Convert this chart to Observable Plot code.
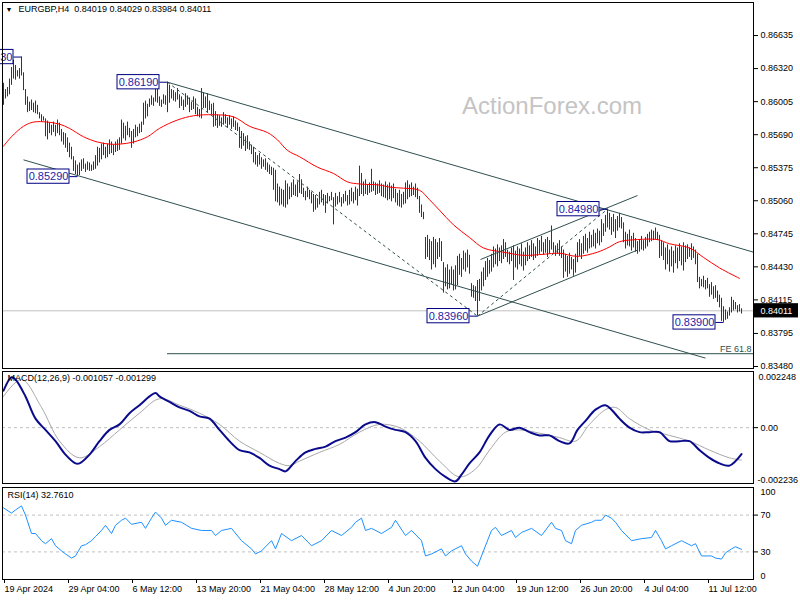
<!DOCTYPE html>
<html><head><meta charset="utf-8">
<script src="https://cdn.jsdelivr.net/npm/d3@7"></script>
<script src="https://cdn.jsdelivr.net/npm/@observablehq/plot@0.6"></script>
<style>
body{margin:0;background:#fff;}
#chart{position:relative;width:800px;height:600px;overflow:hidden;background:#fff;}
#chart svg{position:absolute;left:0;}
</style></head><body><div id="chart"></div>
<script>
// ---------- DATA ----------
const symbolHeader = "EURGBP,H4  0.84019 0.84029 0.83984 0.84011";
const macdHeader = "MACD(12,26,9) -0.001057 -0.001299";
const rsiHeader = "RSI(14) 32.7610";
const watermark = "ActionForex.com";
const lastPrice = 0.84011;

const barHigh = [
0.8618,0.8612,0.8614,0.8622,0.8633,0.8640,0.8635,0.8630,0.8632,0.8643,
0.8628,0.8612,0.8605,0.8600,0.8602,0.8599,0.8601,0.8597,0.8590,0.8588,
0.8586,0.8584,0.8582,0.8580,0.8578,0.8581,0.8578,0.8583,0.8580,0.8574,
0.8571,0.8570,0.8566,0.8561,0.8557,0.8548,0.8544,0.8540,0.8542,0.8545,
0.8546,0.8541,0.8543,0.8542,0.8540,0.8543,0.8549,0.8557,0.8556,0.8560,
0.8561,0.8557,0.8560,0.8564,0.8562,0.8559,0.8562,0.8564,0.8566,0.8583,
0.8580,0.8577,0.8581,0.8575,0.8572,0.8574,0.8578,0.8576,0.8579,0.8581,
0.8599,0.8601,0.8598,0.8603,0.8606,0.8604,0.8618,0.8614,0.8605,0.8602,
0.8607,0.8606,0.8619,0.8616,0.8612,0.8611,0.8609,0.8613,0.8607,0.8605,
0.8602,0.8608,0.8606,0.8604,0.8600,0.8605,0.8603,0.8595,0.8593,0.8613,
0.8609,0.8605,0.8608,0.8601,0.8598,0.8599,0.8591,0.8588,0.8587,0.8585,
0.8590,0.8588,0.8585,0.8587,0.8584,0.8586,0.8582,0.8580,0.8576,0.8572,
0.8570,0.8567,0.8568,0.8562,0.8559,0.8557,0.8552,0.8549,0.8551,0.8547,
0.8545,0.8546,0.8542,0.8540,0.8538,0.8537,0.8535,0.8522,0.8519,0.8517,
0.8516,0.8525,0.8522,0.8519,0.8523,0.8526,0.8521,0.8524,0.8531,0.8526,
0.8518,0.8515,0.8519,0.8516,0.8514,0.8512,0.8511,0.8508,0.8514,0.8516,
0.8512,0.8511,0.8513,0.8510,0.8514,0.8509,0.8513,0.8510,0.8514,0.8509,
0.8512,0.8515,0.8511,0.8516,0.8518,0.8514,0.8519,0.8517,0.8539,0.8532,
0.8524,0.8526,0.8521,0.8523,0.8536,0.8524,0.8523,0.8522,0.8525,0.8522,
0.8521,0.8524,0.8521,0.8523,0.8520,0.8522,0.8517,0.8513,0.8516,0.8512,
0.8514,0.8523,0.8525,0.8521,0.8523,0.8519,0.8522,0.8518,0.8510,0.8502,
0.8495,0.8471,0.8473,0.8469,0.8467,0.8471,0.8469,0.8466,0.8470,0.8467,
0.8447,0.8442,0.8445,0.8440,0.8443,0.8440,0.8444,0.8453,0.8455,0.8451,
0.8458,0.8456,0.8459,0.8454,0.8427,0.8425,0.8424,0.8430,0.8431,0.8438,
0.8442,0.8448,0.8451,0.8449,0.8455,0.8462,0.8460,0.8464,0.8461,0.8463,
0.8469,0.8466,0.8459,0.8457,0.8461,0.8463,0.8458,0.8462,0.8460,0.8465,
0.8457,0.8461,0.8466,0.8463,0.8468,0.8465,0.8462,0.8470,0.8468,0.8472,
0.8466,0.8469,0.8471,0.8468,0.8482,0.8466,0.8463,0.8465,0.8468,0.8462,
0.8459,0.8455,0.8453,0.8456,0.8452,0.8450,0.8455,0.8466,0.8469,0.8465,
0.8472,0.8474,0.8470,0.8476,0.8473,0.8478,0.8475,0.8479,0.8477,0.8488,
0.8484,0.8492,0.8498,0.8494,0.8490,0.8493,0.8488,0.8491,0.8494,0.8490,
0.8485,0.8476,0.8474,0.8478,0.8472,0.8475,0.8470,0.8467,0.8469,0.8472,
0.8468,0.8471,0.8474,0.8476,0.8478,0.8477,0.8480,0.8476,0.8473,0.8468,
0.8466,0.8461,0.8464,0.8459,0.8462,0.8458,0.8463,0.8461,0.8465,0.8462,
0.8466,0.8463,0.8464,0.8461,0.8465,0.8462,0.8459,0.8455,0.8433,0.8431,
0.8434,0.8430,0.8432,0.8426,0.8428,0.8424,0.8425,0.8420,0.8416,0.8413,
0.8405,0.8402,0.8400,0.8404,0.8414,0.8411,0.8409,0.8406,0.8407,0.8403];

const barLow = [
0.8597,0.8603,0.8605,0.8607,0.8616,0.8622,0.8621,0.8624,0.8622,0.8625,
0.8611,0.8597,0.8590,0.8591,0.8592,0.8590,0.8589,0.8588,0.8584,0.8581,
0.8582,0.8567,0.8564,0.8570,0.8568,0.8571,0.8567,0.8570,0.8568,0.8562,
0.8559,0.8556,0.8552,0.8547,0.8545,0.8534,0.8531,0.8529,0.8530,0.8534,
0.8536,0.8533,0.8535,0.8534,0.8534,0.8535,0.8536,0.8539,0.8542,0.8545,
0.8549,0.8546,0.8547,0.8550,0.8551,0.8549,0.8552,0.8553,0.8554,0.8560,
0.8565,0.8563,0.8568,0.8566,0.8556,0.8560,0.8566,0.8567,0.8570,0.8571,
0.8578,0.8584,0.8586,0.8595,0.8597,0.8596,0.8600,0.8599,0.8596,0.8595,
0.8598,0.8597,0.8590,0.8599,0.8603,0.8601,0.8600,0.8602,0.8594,0.8596,
0.8592,0.8595,0.8597,0.8590,0.8592,0.8593,0.8588,0.8586,0.8585,0.8584,
0.8594,0.8594,0.8590,0.8592,0.8588,0.8576,0.8577,0.8575,0.8577,0.8576,
0.8578,0.8579,0.8575,0.8578,0.8574,0.8576,0.8573,0.8572,0.8556,0.8555,
0.8558,0.8553,0.8555,0.8554,0.8550,0.8542,0.8540,0.8538,0.8540,0.8536,
0.8538,0.8535,0.8533,0.8531,0.8530,0.8516,0.8505,0.8504,0.8501,0.8502,
0.8500,0.8499,0.8502,0.8507,0.8509,0.8511,0.8510,0.8509,0.8513,0.8512,
0.8509,0.8506,0.8509,0.8507,0.8503,0.8495,0.8497,0.8499,0.8502,0.8504,
0.8501,0.8494,0.8503,0.8505,0.8506,0.8483,0.8500,0.8502,0.8504,0.8500,
0.8503,0.8505,0.8501,0.8502,0.8505,0.8503,0.8506,0.8501,0.8510,0.8512,
0.8510,0.8512,0.8511,0.8513,0.8514,0.8515,0.8511,0.8512,0.8513,0.8510,
0.8509,0.8508,0.8506,0.8507,0.8505,0.8508,0.8504,0.8501,0.8500,0.8499,
0.8502,0.8503,0.8507,0.8509,0.8510,0.8511,0.8509,0.8507,0.8494,0.8490,
0.8488,0.8450,0.8452,0.8449,0.8440,0.8445,0.8442,0.8450,0.8452,0.8448,
0.8418,0.8424,0.8421,0.8422,0.8426,0.8420,0.8421,0.8425,0.8435,0.8433,
0.8440,0.8438,0.8442,0.8436,0.8414,0.8413,0.8410,0.8396,0.8410,0.8420,
0.8424,0.8430,0.8433,0.8436,0.8438,0.8442,0.8445,0.8443,0.8448,0.8446,
0.8450,0.8452,0.8447,0.8445,0.8448,0.8430,0.8442,0.8440,0.8445,0.8443,
0.8439,0.8444,0.8448,0.8450,0.8452,0.8449,0.8451,0.8453,0.8455,0.8457,
0.8454,0.8456,0.8452,0.8455,0.8459,0.8456,0.8453,0.8455,0.8453,0.8451,
0.8432,0.8438,0.8433,0.8436,0.8440,0.8434,0.8437,0.8447,0.8453,0.8450,
0.8455,0.8458,0.8456,0.8460,0.8461,0.8462,0.8460,0.8465,0.8463,0.8466,
0.8472,0.8476,0.8480,0.8478,0.8473,0.8476,0.8470,0.8477,0.8480,0.8479,
0.8466,0.8460,0.8463,0.8462,0.8458,0.8461,0.8457,0.8455,0.8457,0.8459,
0.8458,0.8460,0.8462,0.8466,0.8467,0.8468,0.8469,0.8468,0.8451,0.8453,
0.8449,0.8440,0.8445,0.8438,0.8443,0.8437,0.8446,0.8441,0.8448,0.8444,
0.8439,0.8447,0.8450,0.8452,0.8449,0.8451,0.8445,0.8428,0.8422,0.8424,
0.8423,0.8421,0.8422,0.8414,0.8416,0.8412,0.8413,0.8409,0.8404,0.8391,
0.8390,0.8392,0.8393,0.8396,0.8399,0.8401,0.8402,0.8399,0.8400,0.8398];

// moving average (red), sampled at bar indices
const maIdx = [0,4,10,15,22,28,33,40,47,53,58,65,72,78,87,95,105,115,123,132,137,142,148,157,165,172,178,188,193,200,208,213,218,225,233,240,250,260,270,278,287,297,303,308,317,327,333,343,350,358,368];
const maVal = [0.8558,0.8567,0.8577,0.8581,0.8581,0.8579,0.8575,0.8567,0.8562,0.8560,0.8560,0.8562,0.8567,0.8575,0.8583,0.8587,0.8588,0.8586,0.8577,0.8571,0.8564,0.8554,0.8548,0.8538,0.8532,0.8524,0.8522,0.8521,0.8519,0.8518,0.8516,0.8507,0.8497,0.8483,0.8471,0.8461,0.8457,0.8454,0.8455,0.8456,0.8453,0.8457,0.8462,0.8467,0.8469,0.8469,0.8465,0.8461,0.8452,0.8442,0.8432];

// trend lines: [i1, price1, i2, price2]
const solidLines = [[82,0.8619,375,0.8457],[10,0.8545,351,0.8356],[237,0.8396,317,0.8459],[238.5,0.8450,317,0.8511]];
const dashedLines = [[82,0.8619,237,0.8396],[237,0.8396,302,0.8498]];
const feLevel = 0.83602, feStart = 82, feText = "FE 61.8";

// swing labels
const swingIdx = [9,82,37,237,302,360];
const swingPrice = [0.86430,0.86190,0.85290,0.83960,0.84980,0.83900];

// price axis
const priceTicks = [0.86635,0.86320,0.86005,0.85690,0.85375,0.85060,0.84745,0.84430,0.84115,0.83795,0.83480];

// time axis
const timeTickIdx = [0,32,64,96,128,160,192,224,256,288,320,352];
const timeTickLabels = ["19 Apr 2024","29 Apr 04:00","6 May 12:00","13 May 20:00","21 May 04:00","28 May 12:00","4 Jun 20:00","12 Jun 04:00","19 Jun 12:00","26 Jun 20:00","4 Jul 04:00","11 Jul 12:00"];

// MACD
const macdIdx = [0,4,6,11,16,21,26,31,36,38,43,48,53,58,63,68,73,76,78,83,88,93,98,103,108,113,118,123,128,133,138,141,146,151,156,161,166,171,176,181,186,191,196,201,206,211,216,221,226,229,233,238,243,248,253,258,263,268,273,278,283,287,291,296,301,304,308,313,318,323,328,333,338,343,348,353,358,363,369];
const macdVal = [0.00148,0.00202,0.00193,0.00125,0.00036,-0.00009,-0.00054,-0.00108,-0.00143,-0.00143,-0.00108,-0.00054,-0.00009,0.00013,0.00058,0.0009,0.00125,0.00139,0.00125,0.00103,0.00081,0.00067,0.00045,0.00036,-0.00009,-0.00054,-0.0009,-0.00099,-0.00121,-0.00152,-0.00166,-0.00175,-0.00134,-0.00099,-0.00085,-0.00076,-0.00054,-0.0004,-0.00018,0.00013,0.00022,0.00004,-0.00009,-0.00018,-0.00054,-0.00121,-0.00166,-0.00197,-0.00215,-0.00188,-0.00143,-0.00099,-0.00031,0.00013,-0.00009,0,-0.00018,-0.00031,-0.00031,-0.00054,-0.00063,-0.00009,0.00027,0.00072,0.0009,0.00072,0.00036,0,-0.00018,-0.00018,-0.00018,-0.00054,-0.00054,-0.00054,-0.0009,-0.00121,-0.00143,-0.00152,-0.00106];
const sigIdx = [0,9,19,28,38,48,58,68,78,88,98,108,118,128,138,143,148,158,168,178,188,198,208,218,228,236,243,251,258,268,278,286,293,301,306,313,323,333,343,353,363,369];
const sigVal = [0.00125,0.00193,0.00081,-0.00054,-0.00121,-0.00076,-0.00009,0.00058,0.00116,0.0009,0.00058,0.00013,-0.00054,-0.00099,-0.00143,-0.00152,-0.00134,-0.00099,-0.00067,-0.00018,0.00013,0,-0.00054,-0.00134,-0.00197,-0.00166,-0.0009,-0.00018,-0.00009,-0.00022,-0.0004,-0.00054,0.00013,0.00072,0.00081,0.00036,-0.00009,-0.00031,-0.00054,-0.0009,-0.00121,-0.0013];
const macdMax = 0.002248, macdMin = -0.002236;

// RSI
const rsiIdx = [0,4,6,9,11,14,16,19,21,24,26,29,31,34,36,39,41,44,46,49,51,54,56,59,61,64,69,71,74,76,79,81,84,89,94,99,104,106,109,114,119,124,126,129,134,136,139,144,149,154,159,164,169,174,176,179,181,184,189,194,196,201,204,209,211,214,219,221,224,229,231,234,237,240,244,246,249,254,256,259,264,269,274,276,279,281,284,286,289,294,296,299,301,304,306,309,314,319,324,326,329,331,334,339,344,346,349,354,356,359,361,364,366,369];
const rsiVal = [77.8,72.2,75.6,80,70,50,50,42.2,38.9,44.4,36.7,31.1,27.8,23.3,25.6,36.7,37.8,42.2,46.7,53.3,58.9,50,58.9,64.4,66.7,60,62.2,55.6,66.7,73.3,66.7,58.9,64.4,62.2,55.6,53.3,53.3,47.8,53.3,55.6,42.2,33.3,27.8,31.1,42.2,33.3,50,42.2,47.8,36.7,42.2,53.3,47.8,56.7,62.2,66.7,53.3,55.6,50,56.7,64.4,47.8,53.3,42.2,25.6,27.8,33.3,25.6,31.1,36.7,27.8,20,14.4,31.1,53.3,56.7,47.8,53.3,45.6,51.1,55.6,47.8,62.2,55.6,53.3,42.2,38.9,53.3,58.9,62.2,64.4,64.4,70,66.7,62.2,53.3,42.2,44.4,45.6,53.3,42.2,33.3,36.7,42.2,36.7,38.9,25.6,25.6,23.3,22.2,28.9,33.3,35.6,32.8];
const rsiLevels = [70,30];
const rsiTicks = [100,70,30,0];

// ---------- STYLE / LAYOUT ----------
const FONT = "'Liberation Sans', Arial, sans-serif";
const BAR = "#203d50", SLATE = "#2f4f4f", NAVY = "#000080";
const xDomain = [-0.5, 375];
const W = 800, ML = 2, MR = 47;
const baseStyle = {fontFamily: FONT, fontSize: "9px", color: "black", background: "transparent", overflow: "visible"};

const bars = barHigh.map((h, i) => ({i, high: h, low: barLow[i]}));
const ma = maIdx.map((i, k) => ({i, v: maVal[k]}));
const toSeg = s => ({i1: s[0], p1: s[1], i2: s[2], p2: s[3]});
const swings = swingIdx.map((i, k) => ({i, p: swingPrice[k], t: swingPrice[k].toFixed(5)}));
const macd = macdIdx.map((i, k) => ({i, v: macdVal[k]}));
const sig = sigIdx.map((i, k) => ({i, v: sigVal[k]}));
const rsi = rsiIdx.map((i, k) => ({i, v: rsiVal[k]}));
const tickLabel = new Map(timeTickIdx.map((d, k) => [d, timeTickLabels[k]]));
const boxH = 0.00068;

const chart = document.getElementById("chart");

// main price panel
const mainPlot = Plot.plot({
  width: W, height: 369, marginLeft: ML, marginRight: MR, marginTop: 2, marginBottom: 1,
  style: baseStyle,
  x: {domain: xDomain, axis: null, label: null},
  y: {domain: [0.83461, 0.86950], axis: null, label: null},
  marks: [
    Plot.text([watermark], {frameAnchor: "top", dx: 174, dy: 94, text: d => d, fontSize: 24, fill: "#c4c4c4", fontFamily: FONT}),
    Plot.ruleY([lastPrice], {stroke: "#c0c0c0"}),
    Plot.ruleX(bars, {x: "i", y1: "low", y2: "high", stroke: BAR, strokeWidth: 1}),
    Plot.line(ma, {x: "i", y: "v", stroke: "#ff0000", strokeWidth: 1, curve: "catmull-rom"}),
    Plot.link(solidLines.map(toSeg), {x1: "i1", y1: "p1", x2: "i2", y2: "p2", stroke: SLATE, strokeWidth: 1}),
    Plot.link(dashedLines.map(toSeg), {x1: "i1", y1: "p1", x2: "i2", y2: "p2", stroke: SLATE, strokeWidth: 1, strokeDasharray: "3,3"}),
    Plot.ruleY([feLevel], {x1: feStart, x2: xDomain[1], stroke: SLATE, strokeWidth: 1}),
    Plot.text([feText], {x: xDomain[1], y: feLevel, text: d => d, textAnchor: "end", lineAnchor: "bottom", dx: -2, dy: -2, fill: SLATE, fontSize: 9}),
    // swing labels
    Plot.link(swings, {x1: d => d.i - 4, x2: "i", y1: "p", y2: "p", stroke: NAVY, strokeWidth: 1}),
    Plot.rect(swings, {x1: d => d.i - 25, x2: d => d.i - 4, y1: d => d.p - boxH, y2: d => d.p + boxH, fill: "white", stroke: NAVY, strokeWidth: 1}),
    Plot.text(swings, {x: d => d.i - 14.5, y: "p", text: "t", fontSize: 11, fill: "#2424a8"}),
    Plot.frame({stroke: "black"}),
    Plot.axisY(priceTicks, {anchor: "right", label: null, tickSize: 4, tickPadding: 3, tickFormat: d => d.toFixed(5), fontSize: 9}),
    // current price box
    Plot.rect([lastPrice], {x1: 375.5, x2: 397.5, y1: d => d - boxH, y2: d => d + boxH, fill: "black"}),
    Plot.text([lastPrice], {x: 378.5, y: d => d, text: d => d.toFixed(5), textAnchor: "start", fill: "white", fontSize: 9}),
    // header
    Plot.text(["▼"], {frameAnchor: "top-left", dx: 3, dy: 5, text: d => d, fontSize: 7, fill: "black"}),
    Plot.text([symbolHeader], {frameAnchor: "top-left", dx: 16, dy: 3, text: d => d, fontSize: 9, fill: "black"})
  ]
});
mainPlot.style.top = "0px";

// MACD panel
const macdPlot = Plot.plot({
  width: W, height: 116, marginLeft: ML, marginRight: MR, marginTop: 2, marginBottom: 2,
  style: baseStyle,
  x: {domain: xDomain, axis: null, label: null},
  y: {domain: [macdMin, macdMax], axis: null, label: null},
  marks: [
    Plot.ruleY([0], {stroke: "#c0c0c0", strokeDasharray: "3,3"}),
    Plot.line(sig, {x: "i", y: "v", stroke: "#a8a8a8", strokeWidth: 1, curve: "catmull-rom"}),
    Plot.line(macd, {x: "i", y: "v", stroke: "#0a0a8c", strokeWidth: 2, curve: "catmull-rom"}),
    Plot.frame({stroke: "black"}),
    Plot.axisY([0], {anchor: "right", label: null, tickSize: 4, tickPadding: 3, tickFormat: () => "0.00", fontSize: 9}),
    Plot.text([macdMax], {frameAnchor: "top-right", dx: 5, dy: 2, text: d => d.toFixed(6), textAnchor: "start", fontSize: 9, fill: "black"}),
    Plot.text([macdMin], {frameAnchor: "bottom-right", dx: 4, dy: -1, text: d => d.toFixed(6), textAnchor: "start", fontSize: 9, fill: "black"}),
    Plot.text([macdHeader], {frameAnchor: "top-left", dx: 5, dy: 3, text: d => d, fontSize: 9, fill: "black"})
  ]
});
macdPlot.style.top = "369px";

// RSI panel + time axis
const rsiPlot = Plot.plot({
  width: W, height: 115, marginLeft: ML, marginRight: MR, marginTop: 2, marginBottom: 21,
  style: baseStyle,
  x: {domain: xDomain, axis: null, label: null},
  y: {domain: [0, 100], axis: null, label: null},
  marks: [
    Plot.ruleY(rsiLevels, {stroke: "#c0c0c0", strokeDasharray: "3,3"}),
    Plot.line(rsi, {x: "i", y: "v", stroke: "#1e90ff", strokeWidth: 1}),
    Plot.frame({stroke: "black"}),
    Plot.axisY(rsiLevels, {anchor: "right", label: null, tickSize: 4, tickPadding: 3, fontSize: 9}),
    Plot.text([rsiTicks[0]], {frameAnchor: "top-right", dx: 7, dy: 1, text: d => String(d), textAnchor: "start", fontSize: 9, fill: "black"}),
    Plot.text([rsiTicks[3]], {frameAnchor: "bottom-right", dx: 7, dy: -1, text: d => String(d), textAnchor: "start", fontSize: 9, fill: "black"}),
    Plot.text([rsiHeader], {frameAnchor: "top-left", dx: 5, dy: 4, text: d => d, fontSize: 9, fill: "black"}),
    Plot.axisX(timeTickIdx, {anchor: "bottom", label: null, tickSize: 4, tickPadding: 2, tickFormat: d => tickLabel.get(d), textAnchor: "start", dx: 1, fontSize: 9})
  ]
});
rsiPlot.style.top = "485px";

chart.appendChild(rsiPlot);
chart.appendChild(macdPlot);
chart.appendChild(mainPlot);
</script></body></html>
